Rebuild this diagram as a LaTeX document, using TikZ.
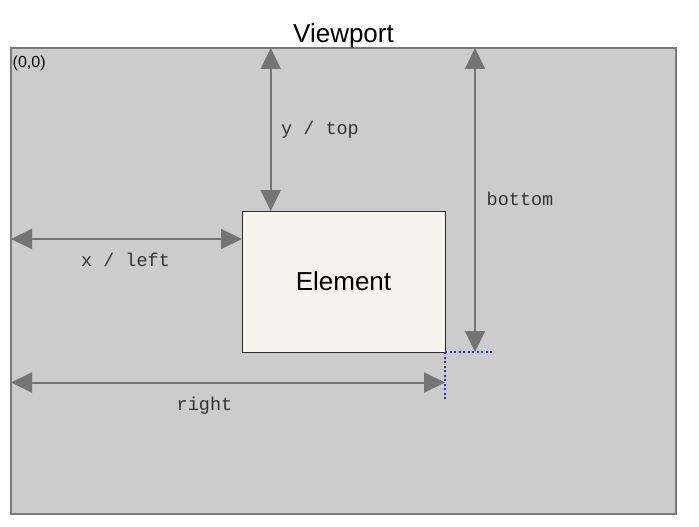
\documentclass[tikz,border=0pt]{standalone}
\usepackage{fontspec}
\setmainfont{Liberation Sans}
\newfontfamily\codefont{Liberation Mono}
\usetikzlibrary{arrows.meta}
\definecolor{vpfill}{HTML}{CCCCCC}
\definecolor{vpline}{HTML}{7A7A7A}
\definecolor{elfill}{HTML}{F7F4EF}
\definecolor{elline}{HTML}{2E2E2E}
\definecolor{dimline}{HTML}{747474}
\definecolor{guide}{HTML}{2A2AF0}
\definecolor{codetext}{HTML}{333333}
\tikzset{
  viewportbox/.style={draw=vpline, fill=vpfill, line width=2pt, inner sep=0pt, outer sep=0pt,
    minimum width=665pt, minimum height=466pt},
  elementbox/.style={draw=elline, fill=elfill, line width=1pt, inner sep=0pt, outer sep=0pt,
    minimum width=203pt, minimum height=141pt, font=\fontsize{26}{30}\selectfont},
  dimarrow/.style={draw=dimline, line width=2pt,
    {Triangle[length=21pt,width=20pt]}-{Triangle[length=21pt,width=20pt]}},
  guideline/.style={draw=guide, line width=1.5pt, dash pattern=on 2pt off 2.5pt},
  codelabel/.style={anchor=base, inner sep=0pt, text=codetext,
    font=\codefont\fontsize{18.5}{22}\selectfont},
}
\begin{document}
\begin{tikzpicture}[x=1pt, y=-1pt]
  \useasboundingbox (0,0) rectangle (699,527);

  % the viewport and the element inside it
  \node[viewportbox] (vp) at (343.5,281) {};
  \node[anchor=base, inner sep=0pt, font=\fontsize{26}{30}\selectfont] (title) at (343.5,43) {Viewport};
  \node[anchor=base west, inner sep=0pt, font=\fontsize{16}{19}\selectfont] (origin) at (12.5,68) {(0,0)};
  \node[elementbox] (el) at (343.5,281.5) {Element};

  % helper points for the dimension lines
  \coordinate (topx) at (270.7,0);
  \coordinate (botx) at (475,0);
  \coordinate (lefty) at (0,239);
  \coordinate (righty) at (0,382.5);
  \coordinate (guideR) at (491.5,352);
  \coordinate (guideD) at (445,399);

  % dotted guides from the element's lower right corner
  \draw[guideline] (el.south east) -- (guideR -| el.south east) -- (guideR);
  \draw[guideline] (el.south east) -- (guideD);

  % dimension arrows
  \draw[dimarrow] (vp.north -| topx) -- (el.north -| topx);
  \draw[dimarrow] (vp.north -| botx) -- (el.south -| botx);
  \draw[dimarrow] (vp.west |- lefty) -- (el.west |- lefty);
  \draw[dimarrow] (vp.west |- righty) -- (el.east |- righty);

  % dimension labels
  \node[codelabel] (ltop) at (320,134) {y / top};
  \node[codelabel] (lleft) at (125.5,266.5) {x / left};
  \node[codelabel] (lbottom) at (520,205.5) {bottom};
  \node[codelabel] (lright) at (204.5,410) {right};
\end{tikzpicture}
\end{document}
